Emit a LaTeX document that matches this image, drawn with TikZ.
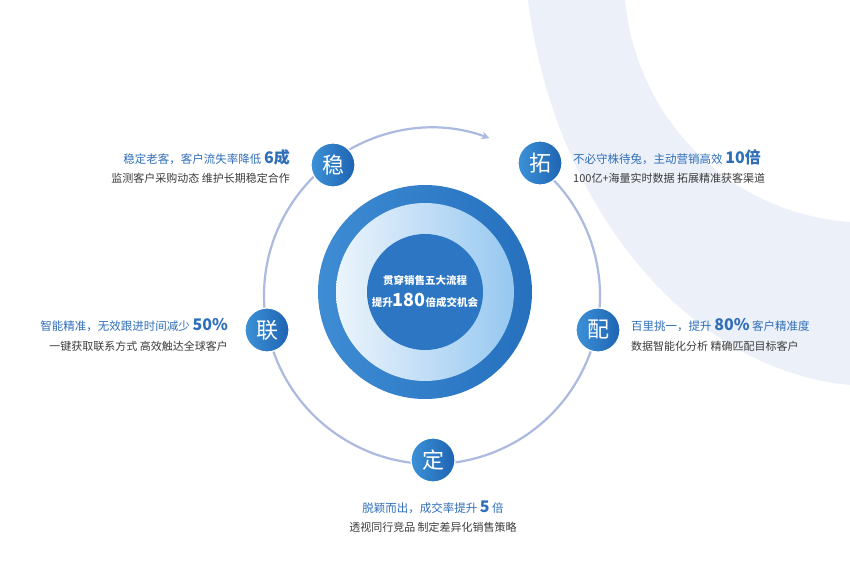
\documentclass[tikz,border=0pt]{standalone}
\usepackage{fontspec}
\setmainfont{Noto Sans CJK SC}
\usetikzlibrary{arrows.meta}
\definecolor{tblue}{RGB}{47,110,185}
\definecolor{tgrey}{RGB}{60,60,60}
\definecolor{ringc}{RGB}{172,186,224}
\definecolor{bgc}{RGB}{236,240,248}
\tikzset{
  key/.style={circle,minimum size=44pt,inner sep=0pt,draw=white,line width=1.2pt,
    left color={rgb,255:red,60;green,145;blue,215}, right color={rgb,255:red,30;green,100;blue,178},
    text=white, font=\fontsize{22}{22}\selectfont},
  ttl/.style={text=tblue,font=\fontsize{11.5}{13}\selectfont,inner sep=0pt},
  sub/.style={text=tgrey,font=\fontsize{11}{13}\selectfont,inner sep=0pt},
}
\newcommand{\bignum}[1]{{\fontsize{16}{16}\selectfont\bfseries #1}}
\begin{document}
\begin{tikzpicture}[x=1pt,y=-1pt]
\useasboundingbox (0,0) rectangle (850,572);
\fill[white] (0,0) rectangle (850,572);
% background crescent
\fill[bgc] (528,0) .. controls (555,210) and (690,370) .. (850,385) -- (850,222)
  .. controls (720,212) and (635,110) .. (625,0) -- cycle;
% ring
\draw[ringc,line width=2.2pt,-{Stealth[length=8pt,width=8pt]}] (432,296) ++(-416:168) arc[start angle=-416,end angle=-70,radius=168];
% center disks
\shade[left color={rgb,255:red,62;green,140;blue,212}, right color={rgb,255:red,38;green,112;blue,190}] (425,292) circle[radius=107];
\shade[left color={rgb,255:red,236;green,244;blue,252}, right color={rgb,255:red,150;green,200;blue,240}] (425,292) circle[radius=89];
\node[circle,minimum size=116pt,inner sep=0pt,fill={rgb,255:red,44;green,118;blue,196},text=white,align=center,font=\fontsize{10.5}{22}\selectfont\bfseries] (core) at (425,292)
 {贯穿销售五大流程\\提升{\fontsize{18}{18}\selectfont 180}倍成交机会};
% key nodes
\node[key] (wen) at (333,165) {稳};
\node[key] (tuo) at (540,163) {拓};
\node[key] (pei) at (598,330) {配};
\node[key] (ding) at (433,460) {定};
\node[key] (lian) at (267,330) {联};
% texts
\node[ttl,anchor=east] (w1) at (290,157) {稳定老客，客户流失率降低 \bignum{6成}};
\node[sub,anchor=east] (w2) at (290,178) {监测客户采购动态 维护长期稳定合作};
\node[ttl,anchor=west] (t1) at (573,157) {不必守株待兔，主动营销高效 \bignum{10倍}};
\node[sub,anchor=west] (t2) at (573,178) {100亿+海量实时数据 拓展精准获客渠道};
\node[ttl,anchor=east] (l1) at (228,325) {智能精准，无效跟进时间减少 \bignum{50\%}};
\node[sub,anchor=east] (l2) at (228,346) {一键获取联系方式 高效触达全球客户};
\node[ttl,anchor=west] (p1) at (631,325) {百里挑一，提升 \bignum{80\%} 客户精准度};
\node[sub,anchor=west] (p2) at (631,346) {数据智能化分析 精确匹配目标客户};
\node[ttl] (d1) at (433,507) {脱颖而出，成交率提升 \bignum{5} 倍};
\node[sub] (d2) at (433,527) {透视同行竞品 制定差异化销售策略};
\end{tikzpicture}
\end{document}
